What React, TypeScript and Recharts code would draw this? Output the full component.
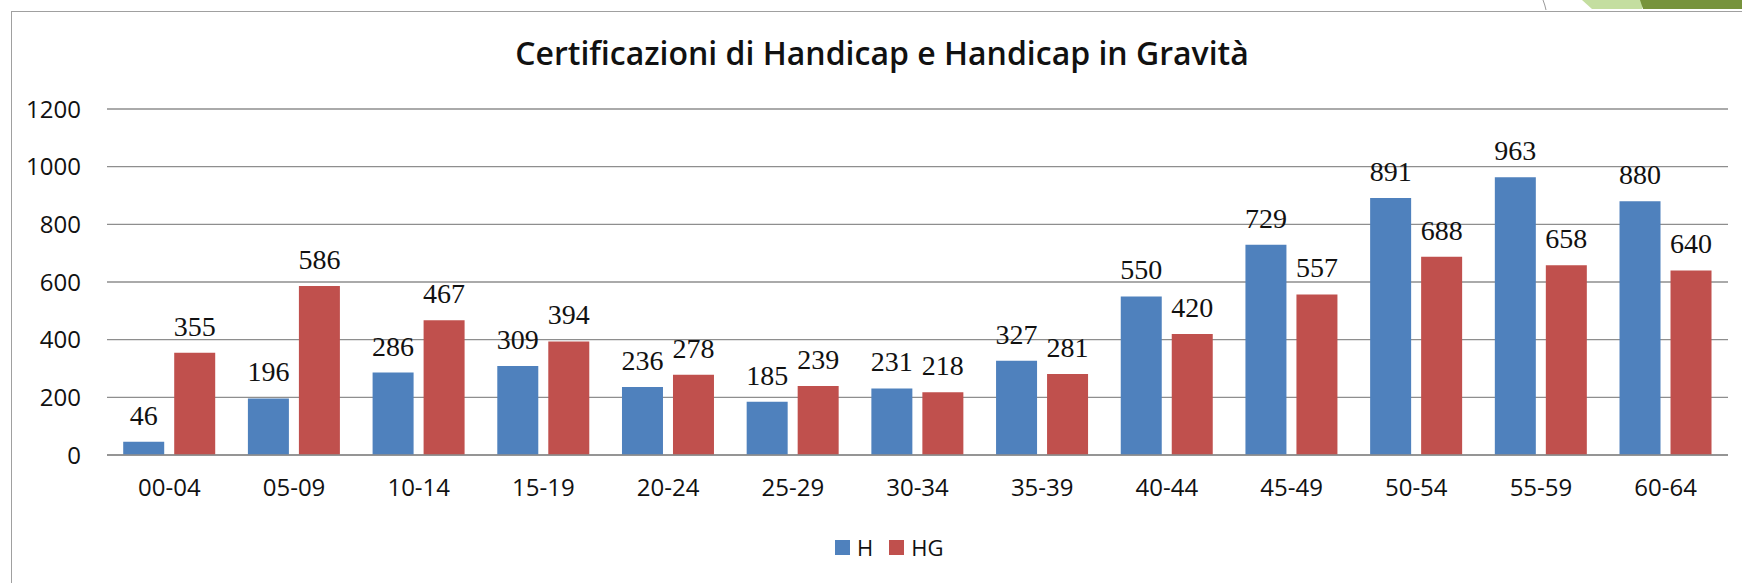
import {
  BarChart,
  Bar,
  XAxis,
  YAxis,
  CartesianGrid,
  Legend,
  LabelList
} from "recharts";

const fasce = ["00-04", "05-09", "10-14", "15-19", "20-24", "25-29", "30-34", "35-39", "40-44", "45-49", "50-54", "55-59", "60-64"];
const valoriH = [46, 196, 286, 309, 236, 185, 231, 327, 550, 729, 891, 963, 880];
const valoriHG = [355, 586, 467, 394, 278, 239, 218, 281, 420, 557, 688, 658, 640];
const tickY = [0, 200, 400, 600, 800, 1000, 1200];

const dati = fasce.map((f, i) => ({ fascia: f, H: valoriH[i], HG: valoriHG[i] }));

const BLU = "#4f81bd";
const ROSSO = "#c0504d";
const GRIGIO = "#8e8e8e";

const stileEtichetta = { fontFamily: "Liberation Serif", fontSize: 28, fill: "#111" };
const stileTick = { fontFamily: "Open Sans", fontSize: 24, fontWeight: 500, fill: "#111" };

function Leggenda({ payload }: any) {
  return (
    <div style={{ display: "flex", alignItems: "center", fontFamily: "Open Sans", fontSize: 22, fontWeight: 500, color: "#111" }}>
      {(payload || []).map((p: any) => (
        <div key={p.value} style={{ display: "flex", alignItems: "center", marginRight: 16 }}>
          <span style={{ width: 15, height: 15, background: p.color, display: "inline-block", marginRight: 7 }} />
          <span>{p.value}</span>
        </div>
      ))}
    </div>
  );
}

export default function App() {
  return (
    <div style={{ position: "absolute", left: 0, top: 0, width: 1742, height: 583, overflow: "hidden", background: "#fff" }}>
      {/* cornice del grafico */}
      <div
        style={{
          position: "absolute",
          left: 11,
          top: 11,
          width: 1800,
          height: 700,
          border: "1.5px solid #a0a0a0"
        }}
      />
      {/* decorazione della slide in alto a destra */}
      <svg width={1742} height={20} style={{ position: "absolute", left: 0, top: 0 }}>
        <path d="M1543 0 Q1545 5 1546 10" stroke="#999" strokeWidth={1} fill="none" />
        <polygon points="1582,0 1642,0 1642,9 1592,9" fill="#c4dea0" />
        <polygon points="1640,0 1742,0 1742,9 1643,9" fill="#77933c" />
      </svg>
      <div
        style={{
          position: "absolute",
          left: 0,
          top: 31,
          width: 1764,
          textAlign: "center",
          fontFamily: "Open Sans",
          fontWeight: 600,
          fontSize: 32,
          color: "#111",
          whiteSpace: "nowrap"
        }}
      >
        Certificazioni di Handicap e Handicap in Gravità
      </div>
      <div style={{ position: "absolute", left: 0, top: 0 }}>
        <BarChart
          width={1742}
          height={583}
          data={dati}
          margin={{ top: 109, right: 14, bottom: 98, left: 27 }}
          barCategoryGap="13%"
          barGap={10}
        >
          <CartesianGrid vertical={false} stroke={GRIGIO} strokeWidth={1.3} />
          <XAxis
            dataKey="fascia"
            height={30}
            tickLine={false}
            axisLine={{ stroke: GRIGIO, strokeWidth: 1.3 }}
            tickMargin={18}
            tick={stileTick}
          />
          <YAxis
            width={80}
            domain={[0, 1200]}
            ticks={tickY}
            tickLine={false}
            axisLine={false}
            tickMargin={20}
            tick={stileTick}
          />
          <Legend
            layout="horizontal"
            verticalAlign="middle"
            align="center"
            content={<Leggenda />}
            wrapperStyle={{ top: 532, left: 835, width: 200 }}
          />
          <Bar dataKey="H" fill={BLU} isAnimationActive={false}>
            <LabelList dataKey="H" position="top" offset={17} style={stileEtichetta} />
          </Bar>
          <Bar dataKey="HG" fill={ROSSO} isAnimationActive={false}>
            <LabelList dataKey="HG" position="top" offset={17} style={stileEtichetta} />
          </Bar>
        </BarChart>
      </div>
    </div>
  );
}
